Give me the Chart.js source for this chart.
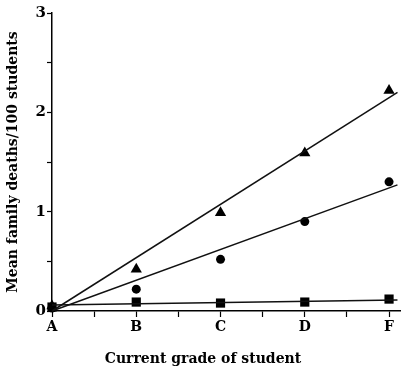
<!DOCTYPE html>
<html>
<head>
<meta charset="utf-8">
<script src="https://cdn.jsdelivr.net/npm/chart.js@4"></script>
<style>
  html, body { margin: 0; padding: 0; background: #fff; }
  #wrap { width: 419px; height: 374px; }
</style>
</head>
<body>
<div id="wrap"><canvas id="chart" width="419" height="374"></canvas></div>
<script>
// grades on the x axis, position 0..4
const grades = ['A', 'B', 'C', 'D', 'F'];
const gradePos = [0, 1, 2, 3, 4];

// mean family deaths per 100 students
const triangleVals = [0.05, 0.42, 0.99, 1.59, 2.22];
const circleVals   = [0.03, 0.22, 0.52, 0.90, 1.30];
const squareVals   = [0.04, 0.09, 0.08, 0.09, 0.12];

// fitted lines (two ends each)
const fitX        = [0, 4.1];
const triangleFit = [0, 2.2];
const circleFit   = [0, 1.27];
const squareFit   = [0.06, 0.11];

const yTicks = [0, 0.5, 1, 1.5, 2, 2.5, 3];
const xTicks = [0, 0.5, 1, 1.5, 2, 2.5, 3, 3.5, 4];

const xTitle = 'Current grade of student';
const yTitle = 'Mean family deaths/100 students';

const serif = "'DejaVu Serif', 'Liberation Serif', serif";

const pts = vals => gradePos.map((x, i) => ({ x, y: vals[i] }));
const line = vals => fitX.map((x, i) => ({ x, y: vals[i] }));

const markerSet = (vals, style, r) => ({
  data: pts(vals),
  pointStyle: style,
  pointRadius: r,
  pointHoverRadius: r,
  backgroundColor: '#000',
  borderColor: '#000',
  borderWidth: 0,
  showLine: false,
  clip: false
});

const fitSet = vals => ({
  data: line(vals),
  showLine: true,
  borderColor: '#111',
  borderWidth: 1.5,
  pointRadius: 0,
  clip: false
});

// x title sits left of the plot centre in the original, so draw it by hand
const xTitlePlugin = {
  id: 'xTitle',
  afterDraw(chart) {
    const { ctx } = chart;
    ctx.save();
    ctx.font = 'bold 14px ' + serif;
    ctx.fillStyle = '#000';
    ctx.textAlign = 'center';
    ctx.textBaseline = 'middle';
    ctx.fillText(xTitle, 203, 359);
    ctx.restore();
  }
};

new Chart(document.getElementById('chart').getContext('2d'), {
  type: 'scatter',
  data: {
    datasets: [
      fitSet(triangleFit),
      fitSet(circleFit),
      fitSet(squareFit),
      markerSet(triangleVals, 'triangle', 6.5),
      markerSet(circleVals, 'circle', 4.5),
      markerSet(squareVals, 'rect', 6.5)
    ]
  },
  plugins: [xTitlePlugin],
  options: {
    responsive: false,
    animation: false,
    layout: { padding: { top: 13, right: 19, left: 0, bottom: 0 } },
    plugins: {
      legend: { display: false },
      tooltip: { enabled: false }
    },
    scales: {
      x: {
        type: 'linear',
        min: 0,
        max: 4.13,
        afterBuildTicks: s => { s.ticks = xTicks.map(v => ({ value: v })); },
        afterFit: s => { s.height = 63; },
        border: { color: '#000', width: 1.5 },
        grid: { drawOnChartArea: false, color: '#000', tickLength: 6, tickWidth: 1.2 },
        ticks: {
          color: '#000',
          padding: 2,
          maxRotation: 0,
          autoSkip: false,
          font: { family: serif, weight: 'bold', size: 14 },
          callback: v => Number.isInteger(v) ? grades[v] : ''
        },
        title: { display: false }
      },
      y: {
        min: 0,
        max: 3,
        afterBuildTicks: s => { s.ticks = yTicks.map(v => ({ value: v })); },
        afterFit: s => { s.width = 52; },
        border: { color: '#000', width: 1.5 },
        grid: { drawOnChartArea: false, color: '#000', tickLength: 5, tickWidth: 1.2 },
        ticks: {
          color: '#000',
          padding: 1,
          autoSkip: false,
          font: { family: serif, weight: 'bold', size: 15 },
          callback: v => Number.isInteger(v) ? String(v) : ''
        },
        title: {
          display: true,
          text: yTitle,
          color: '#000',
          font: { family: serif, weight: 'bold', size: 14 },
          padding: { top: 5, bottom: 0 }
        }
      }
    }
  }
});
</script>
</body>
</html>
